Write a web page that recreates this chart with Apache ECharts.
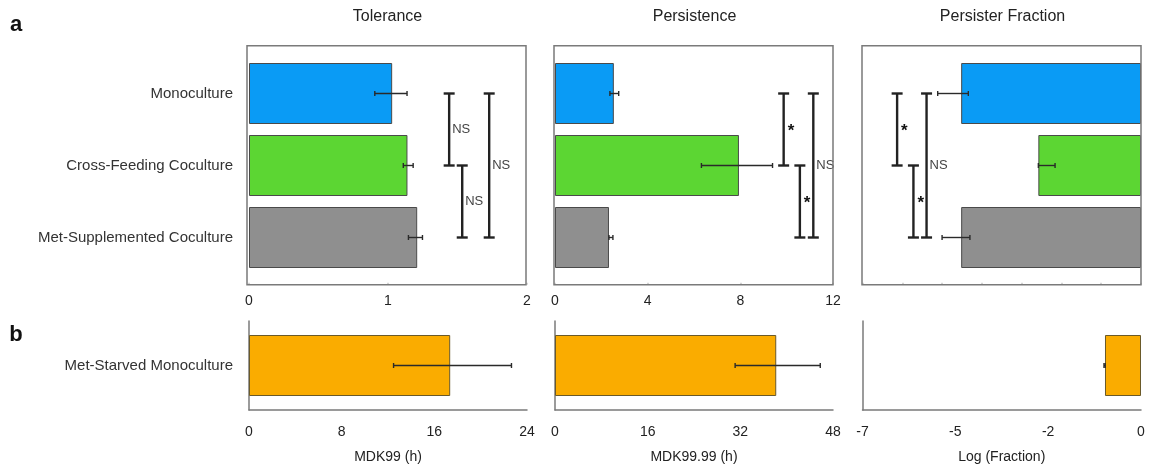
<!DOCTYPE html>
<html><head><meta charset="utf-8">
<script src="https://cdn.jsdelivr.net/npm/echarts@6/dist/echarts.min.js"></script>
<style>html,body{margin:0;padding:0;background:#fff}#c{width:1150px;height:466px}</style>
</head><body><div id="c"></div>
<script>
// ---------- data ----------
const categories = ['Monoculture', 'Cross-Feeding Coculture', 'Met-Supplemented Coculture'];
const categoriesB = ['Met-Starved Monoculture'];
const panelTitles = ['Tolerance', 'Persistence', 'Persister Fraction'];
const axisNames = ['MDK99 (h)', 'MDK99.99 (h)', 'Log (Fraction)'];
const panelLetters = ['a', 'b'];

const toleranceMean = [1.03, 1.14, 1.21];
const toleranceLow  = [0.905, 1.11, 1.147];
const toleranceHigh = [1.137, 1.181, 1.248];

const persistenceMean = [2.54, 7.94, 2.33];
const persistenceLow  = [2.37, 6.32, 2.33];
const persistenceHigh = [2.75, 9.39, 2.50];

const fractionMean = [-4.52, -2.58, -4.52];
const fractionLow  = [-5.11, -2.58, -5.00];
const fractionHigh = [-4.34, -2.16, -4.30];

// row b: tolerance, persistence, persister fraction of the Met-Starved Monoculture
const starvedMean = [17.37, 38.2, -0.905];
const starvedLow  = [12.48, 31.1, -0.93];
const starvedHigh = [22.66, 45.8, -0.90];

// significance brackets: [x position, category A, category B, label]
const toleranceBrackets   = [[1.44, 0, 1, 'NS'], [1.534, 1, 2, 'NS'], [1.728, 0, 2, 'NS']];
const persistenceBrackets = [[9.87, 0, 1, '*'], [10.57, 1, 2, '*'], [11.15, 0, 2, 'NS']];
const fractionBrackets    = [[-6.13, 0, 1, '*'], [-5.72, 1, 2, '*'], [-5.39, 0, 2, 'NS']];

// axis scales
const topScales    = [{min: 0, max: 2, interval: 1}, {min: 0, max: 12, interval: 4}, {min: -7, max: 0, interval: 1}];
const bottomScales = [{min: 0, max: 24, interval: 8}, {min: 0, max: 48, interval: 16}, {min: -7, max: 0, interval: 7 / 3}];

// ---------- styles / layout ----------
const barColors = ['#0a9bf5', '#5cd633', '#8f8f8f'];
const starvedColor = '#faac00';
const FONT = 'Liberation Sans, Arial, Helvetica, sans-serif';
const gridLeft  = [249, 555, 862.5];
const gridWidth = [278, 278, 278.5];
const frameLeft = [247, 554, 862];
const frameRight = [526, 833, 1141];
const frameTop = 45.7, frameBottom = 284.7;

const topMeans = [toleranceMean, persistenceMean, fractionMean];
const topLows = [toleranceLow, persistenceLow, fractionLow];
const topHighs = [toleranceHigh, persistenceHigh, fractionHigh];
const topBrackets = [toleranceBrackets, persistenceBrackets, fractionBrackets];

function errRender(params, api) {
  const y = api.value(2);
  const p1 = api.coord([api.value(0), y]);
  const p2 = api.coord([api.value(1), y]);
  const cap = 2.5;
  const st = {stroke: '#2a2a2a', lineWidth: 1.4};
  return {type: 'group', children: [
    {type: 'line', shape: {x1: p1[0], y1: p1[1], x2: p2[0], y2: p2[1]}, style: st},
    {type: 'line', shape: {x1: p1[0], y1: p1[1] - cap, x2: p1[0], y2: p1[1] + cap}, style: st},
    {type: 'line', shape: {x1: p2[0], y1: p2[1] - cap, x2: p2[0], y2: p2[1] + cap}, style: st}
  ]};
}

function bracketRenderer(list) {
  return function (params, api) {
    const b = list[params.dataIndex];
    const pA = api.coord([b[0], b[1]]);
    const pB = api.coord([b[0], b[2]]);
    const cw = 5.5;
    const st = {stroke: '#222', lineWidth: 2.4};
    const isStar = b[3] === '*';
    return {type: 'group', children: [
      {type: 'line', shape: {x1: pA[0], y1: pA[1], x2: pB[0], y2: pB[1]}, style: st},
      {type: 'line', shape: {x1: pA[0] - cw, y1: pA[1], x2: pA[0] + cw, y2: pA[1]}, style: st},
      {type: 'line', shape: {x1: pB[0] - cw, y1: pB[1], x2: pB[0] + cw, y2: pB[1]}, style: st},
      {type: 'text', x: pA[0] + (isStar ? 4 : 3), y: (pA[1] + pB[1]) / 2 + (isStar ? 2 : 0),
       style: {text: b[3], fill: isStar ? '#111' : '#444', font: (isStar ? 'bold 17px ' : '13px ') + FONT,
               align: 'left', verticalAlign: 'middle'}}
    ]};
  };
}

const grids = [], xAxes = [], yAxes = [], series = [], graphics = [];

for (let i = 0; i < 3; i++) {
  // top row
  grids.push({left: gridLeft[i], width: gridWidth[i], top: 57.5, height: 216});
  xAxes.push({gridIndex: i, type: 'value', min: topScales[i].min, max: topScales[i].max, interval: topScales[i].interval,
    offset: 11.2, axisLine: {show: false, onZero: false}, splitLine: {show: false},
    axisTick: {show: true, inside: true, length: 2, lineStyle: {color: '#c8c8c8', width: 1.5}},
    axisLabel: {show: i < 2, fontSize: 14, color: '#222', fontFamily: FONT, margin: 9}});
  yAxes.push({gridIndex: i, type: 'category', data: categories, inverse: true,
    axisLine: {show: false, onZero: false}, axisTick: {show: false}, splitLine: {show: false},
    axisLabel: {show: i === 0, fontSize: 15, color: '#333', fontFamily: FONT, margin: 16}});
  const ax = i;
  series.push({type: 'bar', xAxisIndex: ax, yAxisIndex: ax, barWidth: 61,
    data: topMeans[i].map((v, k) => ({value: v, itemStyle: {color: barColors[k]}})),
    itemStyle: {borderColor: '#4a4a4a', borderWidth: 1}, z: 2});
  series.push({type: 'custom', xAxisIndex: ax, yAxisIndex: ax, renderItem: errRender, z: 5,
    encode: {x: [0, 1], y: 2},
    data: topMeans[i].map((v, k) => [topLows[i][k], topHighs[i][k], k])});
  series.push({type: 'custom', xAxisIndex: ax, yAxisIndex: ax, renderItem: bracketRenderer(topBrackets[i]), z: 6,
    encode: {x: 0, y: [1, 2]},
    data: topBrackets[i].map(b => [b[0], b[1], b[2]])});
  graphics.push({type: 'rect', shape: {x: frameLeft[i], y: frameTop, width: frameRight[i] - frameLeft[i], height: frameBottom - frameTop},
    style: {fill: 'none', stroke: '#7a7a7a', lineWidth: 1.5}, z: 10});
  graphics.push({type: 'text', x: (frameLeft[i] + frameRight[i]) / 2 + 1, y: 17,
    style: {text: panelTitles[i], font: '16px ' + FONT, fill: '#222', align: 'center', verticalAlign: 'middle'}});
}

for (let i = 0; i < 3; i++) {
  // bottom row
  const g = 3 + i;
  grids.push({left: gridLeft[i], width: gridWidth[i], top: 321, height: 89});
  xAxes.push({gridIndex: g, type: 'value', min: bottomScales[i].min, max: bottomScales[i].max, interval: bottomScales[i].interval,
    axisLine: {show: true, onZero: false, lineStyle: {color: '#7a7a7a', width: 1.5}}, axisTick: {show: false}, splitLine: {show: false},
    axisLabel: {fontSize: 14, color: '#222', fontFamily: FONT, margin: 15,
      formatter: v => String(Math.round(v) === 0 ? 0 : Math.round(v))},
    name: axisNames[i], nameLocation: 'middle', nameGap: 40,
    nameTextStyle: {fontSize: 14, color: '#222', fontFamily: FONT}});
  yAxes.push({gridIndex: g, type: 'category', data: categoriesB, inverse: true,
    axisLine: {show: true, onZero: false, lineStyle: {color: '#7a7a7a', width: 1.5}}, axisTick: {show: false}, splitLine: {show: false},
    axisLabel: {show: i === 0, fontSize: 15, color: '#333', fontFamily: FONT, margin: 16}});
  series.push({type: 'bar', xAxisIndex: g, yAxisIndex: g, barWidth: 61,
    data: [starvedMean[i]], itemStyle: {color: starvedColor, borderColor: '#6a5a2a', borderWidth: 1}, z: 2});
  series.push({type: 'custom', xAxisIndex: g, yAxisIndex: g, renderItem: errRender, z: 5,
    encode: {x: [0, 1], y: 2},
    data: [[starvedLow[i], starvedHigh[i], 0]]});
}

graphics.push({type: 'text', x: 16, y: 25, style: {text: panelLetters[0], font: 'bold 22px ' + FONT, fill: '#111', align: 'center', verticalAlign: 'middle'}});
graphics.push({type: 'text', x: 16, y: 335, style: {text: panelLetters[1], font: 'bold 22px ' + FONT, fill: '#111', align: 'center', verticalAlign: 'middle'}});

const chart = echarts.init(document.getElementById('c'), null, {renderer: 'canvas'});
chart.setOption({
  animation: false,
  backgroundColor: '#fff',
  textStyle: {fontFamily: FONT},
  grid: grids, xAxis: xAxes, yAxis: yAxes, series: series, graphic: graphics
});
</script></body></html>
